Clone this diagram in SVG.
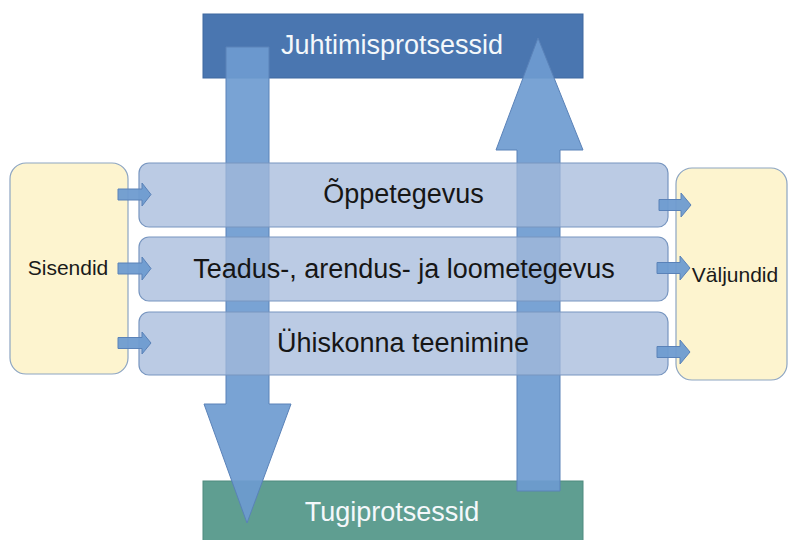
<svg xmlns="http://www.w3.org/2000/svg" width="788" height="540" viewBox="0 0 788 540">
<style>
.big{font-family:"Liberation Sans",Arial,sans-serif;font-size:27px;text-anchor:middle}
.small{font-family:"Liberation Sans",Arial,sans-serif;font-size:21px;text-anchor:middle;fill:#1a1a1a}
.white{fill:#f4f8fb}
.dark{fill:#161616}
.arrow{fill:#6e9bd0;fill-opacity:0.92;stroke:#5a82b8;stroke-width:1}
.sarrow{fill:#6e9bd0;fill-opacity:0.95;stroke:#5a82b8;stroke-width:1}
.proc{fill:#a4badb;fill-opacity:0.75;stroke:#7896c0;stroke-width:1.2}
.io{fill:#fdf4cf;stroke:#8da5c2;stroke-width:1.2}
</style>
<rect width="788" height="540" fill="#ffffff"/>
<g id="juhtimisprotsessid">
<rect x="203" y="14" width="380" height="64" fill="#4a76b0" stroke="#3f68a0" stroke-width="1"/>
</g>
<g id="tugiprotsessid">
<rect x="203" y="481" width="380" height="62" fill="#5f9e91" stroke="#4f8a7e" stroke-width="1"/>
</g>
<g id="connectors">
<polygon class="arrow" points="226,47 269,47 269,404 291,404 247,523 204,404 226,404"/>
<polygon class="arrow" points="538,38 583,150 560,150 560,491 517,491 517,150 496,150"/>
</g>
<g id="sisendid">
<rect class="io" x="10" y="163" width="118" height="211" rx="16"/>
<text class="small" x="68" y="275">Sisendid</text>
</g>
<g id="valjundid">
<rect class="io" x="676" y="168" width="111" height="212" rx="16"/>
<text class="small" x="735" y="282">Väljundid</text>
</g>
<g id="oppetegevus">
<rect class="proc" x="139" y="163" width="529" height="64" rx="10"/>
<text class="big dark" x="403.5" y="203">Õppetegevus</text>
</g>
<g id="teadus">
<rect class="proc" x="139" y="237" width="529" height="64" rx="10"/>
<text class="big dark" x="404" y="278">Teadus-, arendus- ja loometegevus</text>
</g>
<g id="uhiskonna">
<rect class="proc" x="139" y="312" width="529" height="63" rx="10"/>
<text class="big dark" x="403" y="352">Ühiskonna teenimine</text>
</g>
<g id="flow-connectors">
<polygon class="sarrow" points="118,189 142,189 142,183 151,194.5 142,206 142,200 118,200"/>
<polygon class="sarrow" points="118,263 142,263 142,257 151,268.5 142,280 142,274 118,274"/>
<polygon class="sarrow" points="118,337.5 142,337.5 142,332 151,343 142,354 142,348.5 118,348.5"/>
<polygon class="sarrow" points="659,199.5 681,199.5 681,193 691,205 681,217 681,210.5 659,210.5"/>
<polygon class="sarrow" points="657,262.5 680,262.5 680,256 690,268 680,280 680,273.5 657,273.5"/>
<polygon class="sarrow" points="657,346.5 680,346.5 680,340 690,352 680,364 680,357.5 657,357.5"/>
</g>
<text class="big white" x="392" y="54">Juhtimisprotsessid</text>
<text class="big white" x="392" y="521">Tugiprotsessid</text>
</svg>
